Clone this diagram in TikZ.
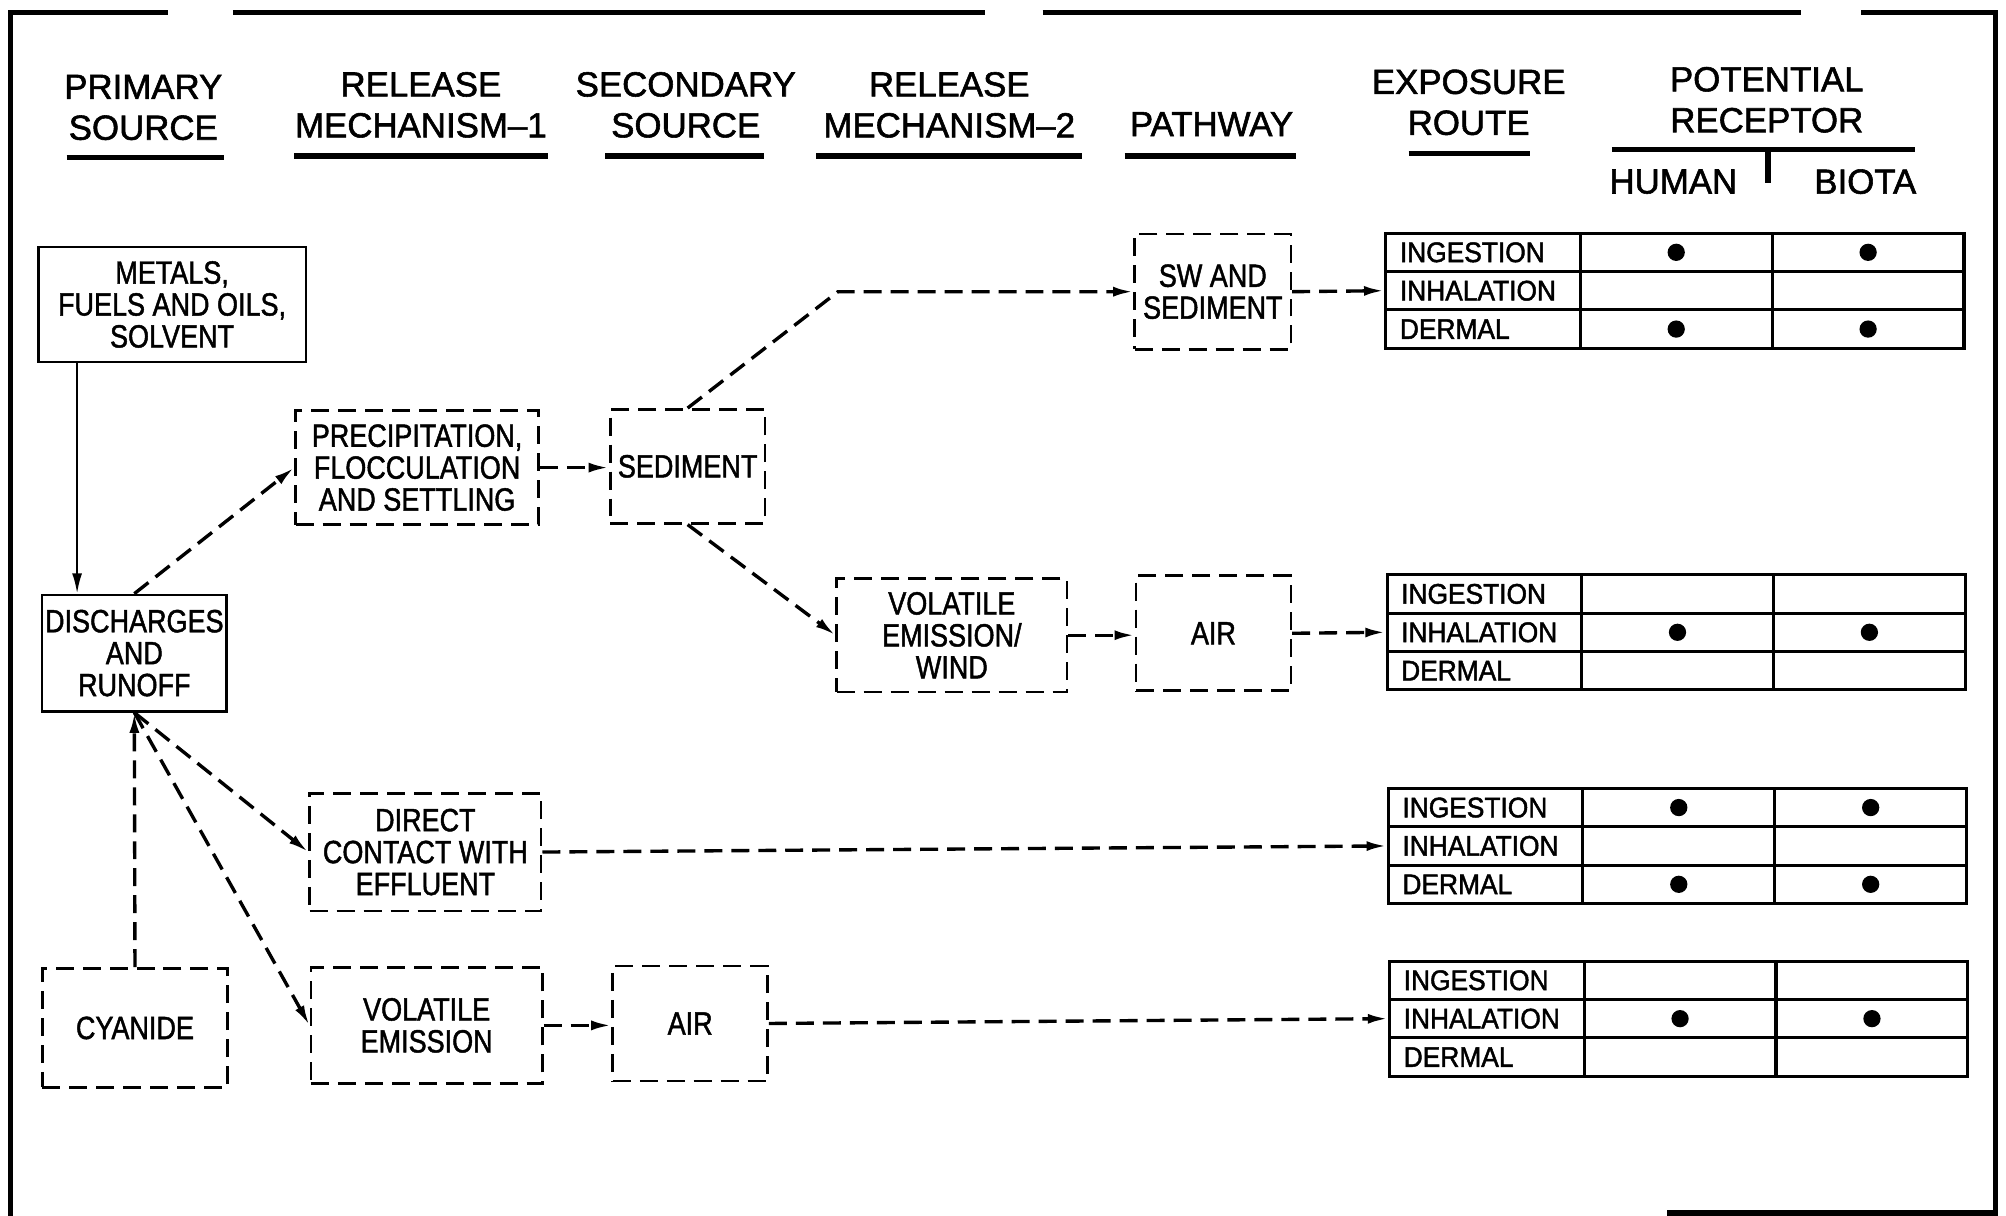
\documentclass[tikz,border=0pt]{standalone}
\usepackage{fontspec}
\setmainfont{Liberation Sans}[FakeBold=1.4]
\newfontfamily\headfont{Liberation Sans}[FakeBold=1.6]
\newfontfamily\boxfont{Liberation Sans}[FakeStretch=0.84, FakeBold=1.4]
\newfontfamily\tabfont{Liberation Sans}[FakeStretch=0.93, FakeBold=1.6]
\usetikzlibrary{arrows.meta,positioning,calc}

\begin{document}
\begin{tikzpicture}[x=0.02cm, y=-0.02cm,
  head/.style={align=center, inner sep=0pt, font={\headfont\fontsize{15.5}{18.2}\selectfont}},
  underl/.style={line width=2.4pt},
  frame/.style={line width=2.4pt},
  srcbox/.style={draw, line width=1.1pt, align=center, inner sep=0pt, font={\boxfont\fontsize{14.3}{14.2}\selectfont}},
  dashbox/.style={srcbox, line width=1.2pt, dash pattern=on 8pt off 4pt},
  flow/.style={line width=1.5pt, dash pattern=on 8pt off 4pt, -{Latex[length=9pt,width=4.4pt]}},
  solidflow/.style={line width=1pt, -{Latex[length=9pt,width=4.4pt]}},
  routecell/.style={draw, line width=1.4pt, minimum width=3.04cm, minimum height=0.6cm, text width=2.6cm, inner xsep=0.22cm, inner ysep=0pt, align=left, anchor=north west, font={\tabfont\fontsize{12.6}{13}\selectfont}},
  recepcell/.style={draw, line width=1.4pt, minimum width=3cm, minimum height=0.6cm, inner sep=0pt, anchor=north west},
  dot/.style={circle, fill, inner sep=0pt, minimum size=0.27cm}]
\useasboundingbox (0,0) rectangle (1568,950);
% Frame
\draw[frame] (131,10) -- (8,10) -- (8,955);
\draw[frame] (182,10) -- (770,10);
\draw[frame] (815,10) -- (1408,10);
\draw[frame] (1455,10) -- (1560,10) -- (1560,948) -- (1303,948);
% Column headings
\node[head] (h-prim) at (112,84) {PRIMARY\\SOURCE};
\node[head] (h-rel1) at (329,82) {RELEASE\\MECHANISM\textendash 1};
\node[head] (h-sec) at (536,82) {SECONDARY\\SOURCE};
\node[head] (h-rel2) at (742,82) {RELEASE\\MECHANISM\textendash 2};
\node[head] (h-path) at (947,97) {PATHWAY};
\node[head] (h-exp) at (1148,80) {EXPOSURE\\ROUTE};
\node[head] (h-rec) at (1381,78) {POTENTIAL\\RECEPTOR};
\node[head] (h-human) at (1308,142) {HUMAN};
\node[head] (h-biota) at (1458,142) {BIOTA};
\foreach \a/\b/\y in {52/175/123, 230/428/122, 473/597/122, 638/846/122, 879/1013/122, 1101/1196/120, 1260/1497/117}
  \draw[underl] (\a,\y) -- (\b,\y);
\draw[underl] (1382,117) -- (1382,143);
% Sources and mechanisms
\node[srcbox, minimum width=4.18cm, minimum height=1.8cm] (metals) at (134.5,238) {METALS,\\FUELS AND OILS,\\SOLVENT};
\node[srcbox, minimum width=2.88cm, minimum height=1.82cm] (disch) at (105,510.5) {DISCHARGES\\AND\\RUNOFF};
\node[dashbox, minimum width=2.9cm, minimum height=1.86cm] (cyan) at (105.5,803.5) {CYANIDE};
\node[dashbox, minimum width=3.8cm, minimum height=1.78cm] (precip) at (326,365.5) {PRECIPITATION,\\FLOCCULATION\\AND SETTLING};
\node[dashbox, minimum width=2.42cm, minimum height=1.78cm] (sed) at (537.5,364.5) {SEDIMENT};
\node[dashbox, minimum width=2.44cm, minimum height=1.8cm] (swsed) at (948,228) {SW AND\\SEDIMENT};
\node[dashbox, minimum width=3.6cm, minimum height=1.78cm] (volwind) at (744,496.5) {VOLATILE\\EMISSION/\\WIND};
\node[dashbox, minimum width=2.42cm, minimum height=1.8cm] (air1) at (948.5,495) {AIR};
\node[dashbox, minimum width=3.62cm, minimum height=1.84cm] (direct) at (332.5,666) {DIRECT\\CONTACT WITH\\EFFLUENT};
\node[dashbox, minimum width=3.62cm, minimum height=1.82cm] (volem) at (333.5,801.5) {VOLATILE\\EMISSION};
\node[dashbox, minimum width=2.42cm, minimum height=1.8cm] (air2) at (539.5,800) {AIR};
% Exposure route tables
\foreach \t/\x/\y in {ta/1082/181, tb/1083/448, tc/1084/615, td/1085/750} {
  \foreach \r/\lab [count=\i from 0] in {ing/INGESTION, inh/INHALATION, der/DERMAL} {
    \node[routecell] (\t-\r) at ({\x},{\y+30*\i}) {\lab};
    \node[recepcell] (\t-\r-h) at ({\x+152},{\y+30*\i}) {};
    \node[recepcell] (\t-\r-b) at ({\x+302},{\y+30*\i}) {};
  }
}
\foreach \c in {ta-ing-h, ta-ing-b, ta-der-h, ta-der-b, tb-inh-h, tb-inh-b, tc-ing-h, tc-ing-b, tc-der-h, tc-der-b, td-inh-h, td-inh-b}
  \node[dot] (dot-\c) at (\c) {};
% Connectors
\coordinate (bend) at (655,228);
\draw[solidflow] ($(metals.south west)!0.148!(metals.south east)$) coordinate (m-out) -- (m-out |- disch.north);
\draw[flow] (disch.north) -- (precip.west);
\draw[flow] (precip.east) -- (precip.east -| sed.west);
\draw[flow] (sed.north) -- (bend) -- (swsed.west);
\draw[flow] (sed.south) -- (volwind.west);
\draw[flow] (volwind.east) -- (volwind.east -| air1.west);
\draw[flow] (swsed.east) -- (ta-inh.west);
\draw[flow] (air1.east) -- (tb-inh.west);
\draw[flow] (cyan.north) -- (disch.south);
\draw[flow] (disch.south) -- (direct.west);
\draw[flow] (disch.south) -- (volem.west);
\draw[flow] (direct.east) -- (tc-inh.west);
\draw[flow] (volem.east) -- (volem.east -| air2.west);
\draw[flow] (air2.east) -- (td-inh.west);
\end{tikzpicture}
\end{document}
